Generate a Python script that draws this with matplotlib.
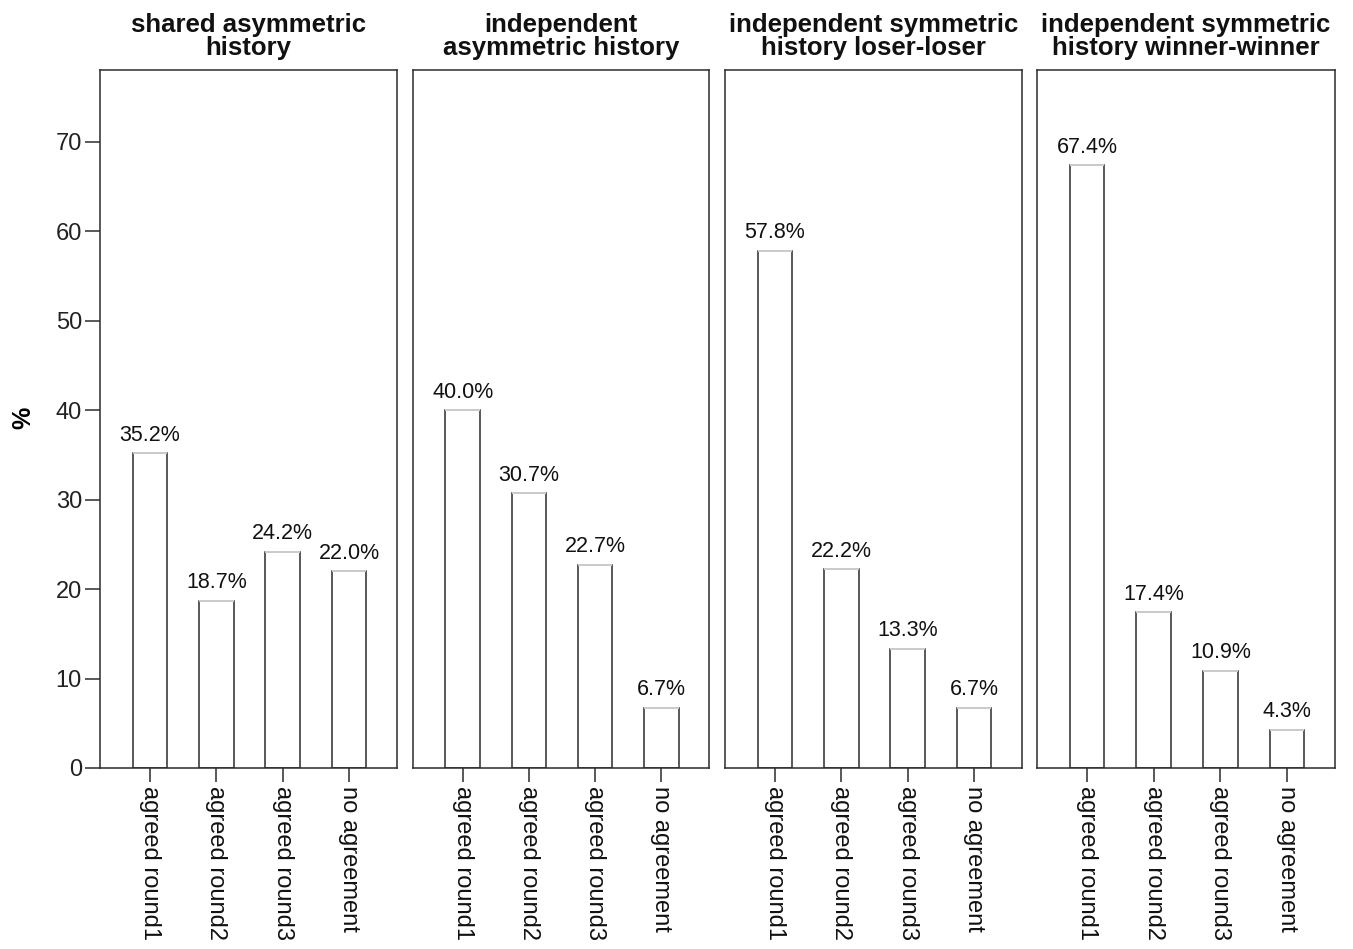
import matplotlib
matplotlib.use("Agg")
import matplotlib.pyplot as plt

categories = ["agreed round1", "agreed round2", "agreed round3", "no agreement"]
titles = ["shared asymmetric\nhistory",
          "independent\nasymmetric history",
          "independent symmetric\nhistory loser-loser",
          "independent symmetric\nhistory winner-winner"]
shared_asym = [35.2, 18.7, 24.2, 22.0]
indep_asym = [40.0, 30.7, 22.7, 6.7]
indep_sym_loser = [57.8, 22.2, 13.3, 6.7]
indep_sym_winner = [67.4, 17.4, 10.9, 4.3]
series = [shared_asym, indep_asym, indep_sym_loser, indep_sym_winner]
y_ticks = [0, 10, 20, 30, 40, 50, 60, 70]

plt.rcParams['font.family'] = ['Liberation Sans', 'DejaVu Sans']

W, H = 1353, 949
fig = plt.figure(figsize=(W / 100, H / 100), dpi=100)

lefts = [100, 413, 725, 1037]
rights = [397, 709, 1022, 1335]
top_px, bot_px = 70, 768
edge = '#2b2b2b'

for i, (vals, title) in enumerate(zip(series, titles)):
    ax = fig.add_axes([lefts[i] / W, 1 - bot_px / H, (rights[i] - lefts[i]) / W, (bot_px - top_px) / H])
    x = list(range(len(categories)))
    ax.bar(x, vals, width=0.52, color='white', edgecolor=edge, linewidth=1.1, zorder=2)
    ax.hlines(vals, [xi - 0.26 for xi in x], [xi + 0.26 for xi in x], color='#d8d8d8', linewidth=1.3, zorder=3)
    for xi, v in zip(x, vals):
        ax.annotate(f"{v:.1f}%", (xi, v), xytext=(0, 5.5), textcoords='offset points',
                    ha='center', va='bottom', fontsize=15.5, color='#111111')
    ax.set_xlim(-0.75, 3.72)
    ax.set_ylim(0, 78.05)
    ax.set_xticks(x)
    ax.set_xticklabels(categories, rotation=-90, fontsize=17, color='#111111', va='top', ha='center')
    ax.tick_params(axis='x', direction='out', length=10, width=1.1, color=edge, pad=3)
    if i == 0:
        ax.set_yticks(y_ticks)
        ax.set_yticklabels([str(t) for t in y_ticks], fontsize=17, color='#222222')
        ax.tick_params(axis='y', direction='out', length=11, width=1.1, color=edge, pad=2)
        ax.set_ylabel('%', fontsize=18, fontweight='bold')
        ax.yaxis.set_label_coords((35 - lefts[0]) / (rights[0] - lefts[0]), (bot_px - 418) / (bot_px - top_px))
    else:
        ax.set_yticks([])
    for s in ax.spines.values():
        s.set_linewidth(1.1)
        s.set_color(edge)
    ax.set_title(title, fontsize=18.5, fontweight='bold', linespacing=0.95, pad=11, color='#111111')

fig.savefig("out.png", dpi=100, facecolor='white')
